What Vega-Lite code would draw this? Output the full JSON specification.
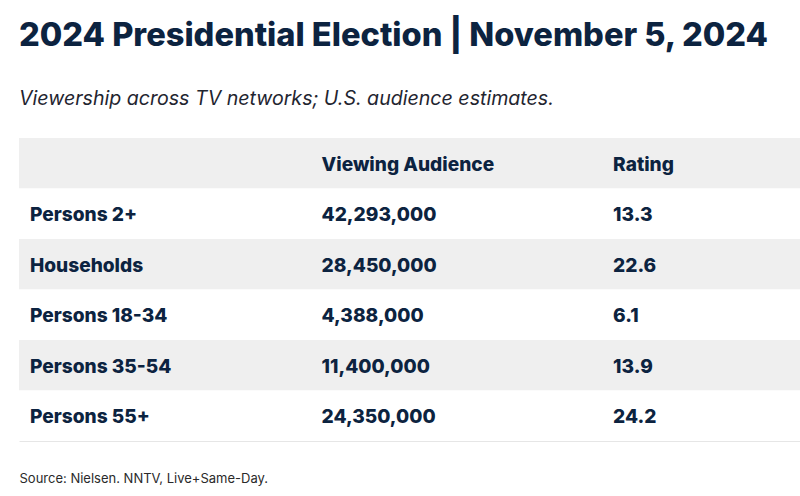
{
  "$schema": "https://vega.github.io/schema/vega-lite/v6.json",
  "width": 781,
  "height": 303,
  "autosize": {"type": "none"},
  "padding": {"left": 19, "top": 138, "right": 0, "bottom": 55},
  "background": "#ffffff",
  "title": {
    "text": "2024 Presidential Election | November 5, 2024",
    "subtitle": "Viewership across TV networks; U.S. audience estimates.",
    "anchor": "start",
    "frame": "group",
    "font": "Inter",
    "fontSize": 32.6,
    "fontWeight": 800,
    "color": "#0c2340",
    "subtitleFont": "Inter",
    "subtitleFontSize": 19.6,
    "subtitleFontStyle": "italic",
    "subtitleColor": "#1f2530",
    "subtitlePadding": 38,
    "offset": 29
  },
  "datasets": {
    "header": [{"idx": 0, "c1": "Viewing Audience", "c2": "Rating"}],
    "table": [
      {"idx": 1, "group": "Persons 2+", "audience": 42293000, "rating": 13.3},
      {"idx": 2, "group": "Households", "audience": 28450000, "rating": 22.6},
      {"idx": 3, "group": "Persons 18-34", "audience": 4388000, "rating": 6.1},
      {"idx": 4, "group": "Persons 35-54", "audience": 11400000, "rating": 13.9},
      {"idx": 5, "group": "Persons 55+", "audience": 24350000, "rating": 24.2}
    ]
  },
  "encoding": {
    "y": {"field": "idx", "type": "ordinal", "scale": {"domain": [0, 1, 2, 3, 4, 5], "paddingInner": 0, "paddingOuter": 0}, "axis": null}
  },
  "layer": [
    {
      "data": {"name": "header"},
      "mark": {"type": "rect", "color": "#efefef"},
      "encoding": {"x": {"value": 0}, "x2": {"value": "width"}}
    },
    {
      "data": {"name": "table"},
      "mark": {"type": "rect"},
      "encoding": {
        "x": {"value": 0}, "x2": {"value": "width"},
        "color": {"condition": {"test": "datum.idx % 2 === 0", "value": "#efefef"}, "value": "#ffffff"}
      }
    },
    {
      "data": {"name": "header"},
      "mark": {"type": "text", "align": "left", "baseline": "middle", "dy": 1.5, "font": "Inter", "fontSize": 19.1, "fontWeight": 800, "color": "#0c2340"},
      "encoding": {
        "x": {"datum": 1, "type": "quantitative", "scale": {"domain": [-0.0377, 2.641], "nice": false, "zero": false},
              "axis": {"orient": "bottom", "domain": true, "domainColor": "#e6e6e6", "domainWidth": 1, "ticks": false, "labels": false, "grid": false,
                       "title": "Source: Nielsen. NNTV, Live+Same-Day.", "titleAnchor": "start", "titleAlign": "left", "titleFont": "Inter", "titleFontWeight": "normal", "titleFontSize": 13, "titleColor": "#2a2a2a", "titlePadding": 31}},
        "text": {"field": "c1"}
      }
    },
    {
      "data": {"name": "header"},
      "mark": {"type": "text", "align": "left", "baseline": "middle", "dy": 1.5, "font": "Inter", "fontSize": 19.1, "fontWeight": 800, "color": "#0c2340"},
      "encoding": {"x": {"datum": 2, "type": "quantitative"}, "text": {"field": "c2"}}
    },
    {
      "data": {"name": "table"},
      "mark": {"type": "text", "align": "left", "baseline": "middle", "dy": 1.5, "font": "Inter", "fontSize": 19.1, "fontWeight": 800, "color": "#0c2340"},
      "encoding": {"x": {"datum": 0, "type": "quantitative"}, "text": {"field": "group"}}
    },
    {
      "data": {"name": "table"},
      "mark": {"type": "text", "align": "left", "baseline": "middle", "dy": 1.5, "font": "Inter", "fontSize": 19.1, "fontWeight": 800, "color": "#0c2340"},
      "encoding": {"x": {"datum": 1, "type": "quantitative"}, "text": {"field": "audience", "type": "quantitative", "format": ","}}
    },
    {
      "data": {"name": "table"},
      "mark": {"type": "text", "align": "left", "baseline": "middle", "dy": 1.5, "font": "Inter", "fontSize": 19.1, "fontWeight": 800, "color": "#0c2340"},
      "encoding": {"x": {"datum": 2, "type": "quantitative"}, "text": {"field": "rating", "type": "quantitative", "format": ".1f"}}
    }
  ],
  "config": {"view": {"stroke": null}}
}
